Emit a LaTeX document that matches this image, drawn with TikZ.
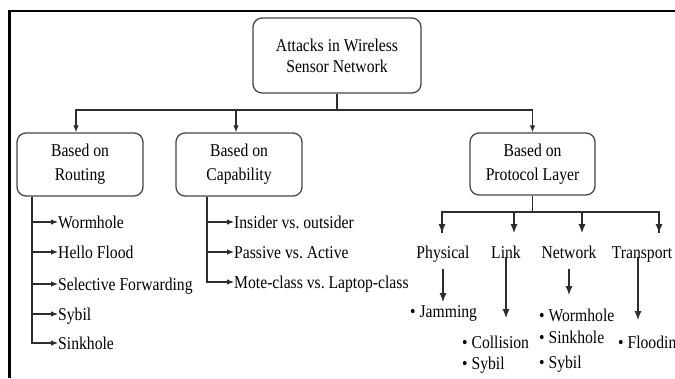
\documentclass[tikz,border=0pt]{standalone}
\usepackage{fontspec}
\setmainfont{Liberation Serif}[FakeStretch=0.87]
\usetikzlibrary{arrows.meta,calc}
\definecolor{boxgray}{RGB}{70,70,70}
\definecolor{linegray}{RGB}{45,45,45}
\begin{document}
\begin{tikzpicture}[x=1pt,y=-1pt,
  every node/.style={font=\fontsize{18}{21}\selectfont, text=black},
  box/.style={draw=boxgray, line width=1.3pt, rounded corners=9pt, align=center, inner sep=0pt},
  lbl/.style={inner sep=0pt, text height=13.5pt, text depth=1.5pt},
  conn/.style={draw=linegray, line width=1.1pt},
  arr/.style={conn, -{Latex[length=7pt,width=5.5pt]}},
  bigarr/.style={conn, -{Latex[length=9pt,width=7pt]}},
]
\useasboundingbox (0,0) rectangle (675,378);
\fill[white] (0,0) rectangle (675,378);
% frame
\draw[line width=2.2pt, black] (9.5,378) -- (9.5,11) -- (675,11);

% boxes
\node[box, minimum width=168pt, minimum height=75pt] (top) at (337,55.5) {Attacks in Wireless\\Sensor Network};
\node[box, minimum width=126pt, minimum height=63pt] (routing) at (80,164.5) {Based on\\[3pt]Routing};
\node[box, minimum width=126pt, minimum height=63pt] (capab) at (239,164.5) {Based on\\[3pt]Capability};
\node[box, minimum width=125pt, minimum height=62pt] (proto) at (532.5,164) {Based on\\[3pt]Protocol Layer};

% trunk
\coordinate (j0) at (337,110);
\draw[conn] (top.south) -- (j0);
\draw[arr] (j0) -| ([xshift=-4pt]routing.north);
\draw[arr] (j0) -| ([xshift=-3pt]capab.north);
\draw[arr] (j0) -| (proto.north);

% routing items
\node[lbl, anchor=west] (r1) at (58,222) {Wormhole};
\node[lbl, anchor=west] (r2) at (58,252) {Hello Flood};
\node[lbl, anchor=west] (r3) at (58,284) {Selective Forwarding};
\node[lbl, anchor=west] (r4) at (58,314) {Sybil};
\node[lbl, anchor=west] (r5) at (58,343) {Sinkhole};
\foreach \i in {1,...,5}{\draw[arr] ([xshift=-48pt]routing.south) |- (r\i.west);}

% capability items
\node[lbl, anchor=west] (c1) at (234,222) {Insider vs.\ outsider};
\node[lbl, anchor=west] (c2) at (234,252) {Passive vs.\ Active};
\node[lbl, anchor=west] (c3) at (234,282) {Mote-class vs.\ Laptop-class};
\foreach \i in {1,...,3}{\draw[arr] ([xshift=-32pt]capab.south) |- (c\i.west);}

% protocol layers
\coordinate (j1) at (532.5,212);
\draw[conn] (proto.south) -- (j1);
\coordinate (t1) at (442,233);
\coordinate (t2) at (514,233);
\coordinate (t3) at (582,233);
\coordinate (t4) at (659,233);
\draw[conn] (j1) -| (t1);
\draw[conn] (j1) -| (t4);
\foreach \i in {1,...,4}{\draw[bigarr] (t\i |- j1) -- (t\i);}

\node[lbl] (phys) at (443,252) {Physical};
\node[lbl] (link) at (506,252) {Link};
\node[lbl] (netw) at (569,252) {Network};
\node[lbl] (trans) at (642,252) {Transport};

% lists
\node[lbl, anchor=west] (p1) at (410,311) {• Jamming};
\node[lbl, anchor=west] (l1) at (462,342) {• Collision};
\node[lbl, anchor=west] (l2) at (462,363) {• Sybil};
\node[lbl, anchor=west] (n1) at (539,315) {• Wormhole};
\node[lbl, anchor=west] (n2) at (539,337) {• Sinkhole};
\node[lbl, anchor=west] (n3) at (539,362) {• Sybil};
\node[lbl, anchor=west] (f1) at (618,342) {• Floodin};

\coordinate (e1) at (443,302);
\coordinate (e2) at (506,318);
\coordinate (e3) at (569,295);
\coordinate (e4) at (638,320);
\draw[bigarr] ([yshift=-9pt]phys.south) -- (e1);
\draw[bigarr] ([yshift=3pt]link.south) -- (e2);
\draw[bigarr] ([yshift=-9pt]netw.south) -- (e3);
\draw[bigarr] ([xshift=-4pt,yshift=3pt]trans.south) -- (e4);
\end{tikzpicture}
\end{document}
